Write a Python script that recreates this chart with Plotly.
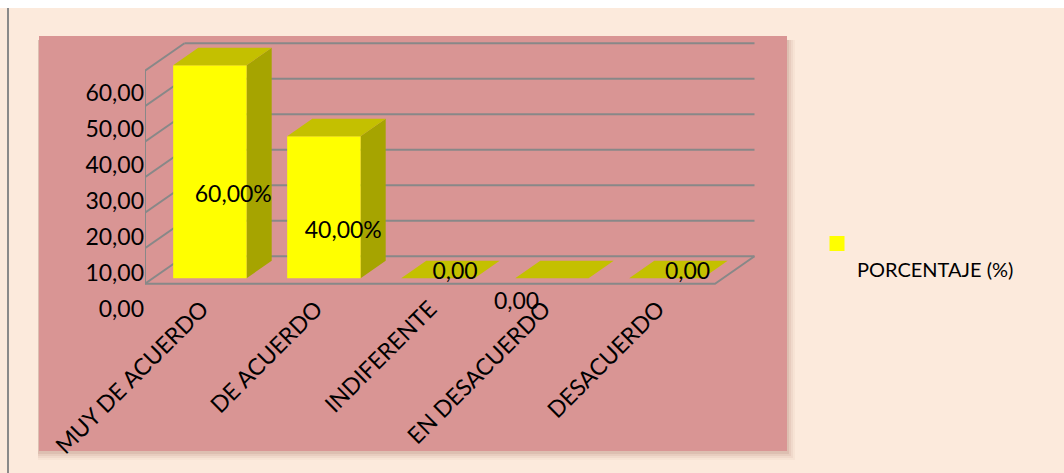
import plotly.graph_objects as go

# Survey results
categories = ["MUY DE ACUERDO", "DE ACUERDO", "INDIFERENTE", "EN DESACUERDO", "DESACUERDO"]
values = [60.0, 40.0, 0.0, 0.0, 0.0]
series_name = "PORCENTAJE (%)"
axis_ticks = [0, 10, 20, 30, 40, 50, 60]


def fmt(v, pct):
    s = f"{v:.2f}".replace(".", ",")
    return s + "%" if pct else s


# ---- geometry of the pseudo-3D box (in data units) ----
W, H = 1064, 473
PL, PR, PT, PB = 145, 760, 36, 320          # plot area in pixels
X_UNIT = 114.0                              # px per category slot
Y_UNIT = 3.55                               # px per value unit
Y_ZERO_PX = 283.7                           # front floor line
x_range = [0, (PR - PL) / X_UNIT]
y_range = [(Y_ZERO_PX - PB) / Y_UNIT, (Y_ZERO_PX - PT) / Y_UNIT]

DX = 39.5 / X_UNIT                          # depth vector (x part)
DY = 27.4 / Y_UNIT                          # depth vector (y part)
D0, DD = 0.2, 0.635                         # bar depth start / thickness
BW = 0.644                                  # bar width (fraction of slot)
n = len(categories)
y_max = max(axis_ticks)

GRID = "#888888"
PINK = "#D99594"
PEACH = "#FCEADC"
FRONT, TOP, SIDE = "#FFFF00", "#C4C000", "#A6A400"
FONT = "Lato"

fig = go.Figure()

# back wall gridlines + left wall diagonals + front axis + floor outline
gx, gy = [], []
for t in axis_ticks:
    gx += [DX, n + DX, None]
    gy += [t + DY, t + DY, None]
    gx += [0, DX, None]
    gy += [t, t + DY, None]
gx += [0, 0, None, 0, n, n + DX, None]
gy += [0, y_max, None, 0, 0, DY, None]
fig.add_trace(go.Scatter(x=gx, y=gy, mode="lines", line=dict(color=GRID, width=2),
                         hoverinfo="skip", showlegend=False))

# bars: front, side and top faces
fx, fy, sx, sy, tx, ty = [], [], [], [], [], []
for i, v in enumerate(values):
    xl = i + 0.5 - BW / 2 + D0 * DX
    xr = xl + BW
    yb = D0 * DY
    yt = yb + v
    ox, oy = DD * DX, DD * DY
    if v > 0:
        fx += [xl, xr, xr, xl, xl, None]
        fy += [yb, yb, yt, yt, yb, None]
        sx += [xr, xr + ox, xr + ox, xr, xr, None]
        sy += [yb, yb + oy, yt + oy, yt, yb, None]
    tx += [xl, xr, xr + ox, xl + ox, xl, None]
    ty += [yt, yt, yt + oy, yt + oy, yt, None]
for px, py, col in [(sx, sy, SIDE), (fx, fy, FRONT), (tx, ty, TOP)]:
    fig.add_trace(go.Scatter(x=px, y=py, mode="lines", fill="toself", fillcolor=col,
                             line=dict(width=0, color=col), hoverinfo="skip",
                             showlegend=False))

# data labels
lab_dx = [0.205, 0.17, 0.15, -0.31, 0.19]
lab_dy = [-5.5, -5.5, 2.9, -5.5, 2.9]
lx = [i + 0.5 + D0 * DX + lab_dx[i] for i in range(n)]
ly = [v / 2 + lab_dy[i] for i, v in enumerate(values)]
fig.add_trace(go.Scatter(x=lx, y=ly, mode="text",
                         text=[fmt(v, v > 0) for v in values],
                         textfont=dict(family=FONT, size=23, color="#000000"),
                         hoverinfo="skip", showlegend=False))

# legend entry
fig.add_trace(go.Scatter(x=[None], y=[None], mode="markers", name="<br>" + series_name,
                         marker=dict(symbol="square", size=15, color=FRONT)))

# tick-label axis (offset like the original 3D layout)
lab_zero_px, lab_unit = 308.5, 3.6
y2_range = [(lab_zero_px - PB) / lab_unit, (lab_zero_px - PT) / lab_unit]


def px_x(p):
    return (p - PL) / (PR - PL)


def px_y(p):
    return (PB - p) / (PB - PT)


shapes = [
    # white strip at the top and gray frame line at the left
    dict(type="rect", xref="paper", yref="paper", x0=px_x(0), x1=px_x(W), y0=px_y(8), y1=px_y(0),
         fillcolor="#FFFFFF", line=dict(width=0), layer="below"),
    dict(type="line", xref="paper", yref="paper", x0=px_x(8), x1=px_x(8), y0=px_y(8), y1=px_y(W),
         line=dict(color="#8A8A8A", width=2), layer="below"),
]
# soft shadow under the pink panel
for k, op in [(8, 0.05), (6, 0.07), (4, 0.09), (2, 0.12)]:
    shapes.append(dict(type="rect", xref="paper", yref="paper",
                       x0=px_x(39 - 1), x1=px_x(787 + k), y0=px_y(451 + k + 1), y1=px_y(36 + 4),
                       fillcolor=f"rgba(150,90,80,{op})", line=dict(width=0), layer="below"))
shapes.append(dict(type="rect", xref="paper", yref="paper", x0=px_x(39), x1=px_x(787),
                   y0=px_y(451), y1=px_y(36), fillcolor=PINK, line=dict(width=0), layer="below"))

fig.update_layout(
    width=W, height=H,
    margin=dict(l=PL, r=W - PR, t=PT, b=H - PB, pad=0),
    paper_bgcolor=PEACH, plot_bgcolor="rgba(0,0,0,0)",
    shapes=shapes,
    showlegend=True,
    legend=dict(x=px_x(817), y=px_y(224), xanchor="left", yanchor="top",
                valign="top", bgcolor="rgba(0,0,0,0)",
                font=dict(family=FONT, size=20, color="#000000")),
    xaxis=dict(range=x_range, showgrid=False, zeroline=False, showline=False,
               tickmode="array", tickvals=[i + 0.5 for i in range(n)], ticktext=categories,
               tickangle=-45, ticks="", anchor="free", position=px_y(290),
               tickfont=dict(family=FONT, size=23, color="#000000")),
    yaxis=dict(range=y_range, showgrid=False, zeroline=False, showline=False,
               showticklabels=False, ticks=""),
    yaxis2=dict(range=y2_range, overlaying="y", side="left", anchor="x",
                showgrid=False, zeroline=False, showline=False, ticks="",
                tickmode="array", tickvals=axis_ticks,
                ticktext=[fmt(t, False) for t in axis_ticks],
                tickfont=dict(family=FONT, size=23, color="#000000")),
)
# yaxis2 needs a trace to be drawn
fig.add_trace(go.Scatter(x=[None], y=[None], yaxis="y2", showlegend=False, hoverinfo="skip"))

fig.write_html("out.html")
